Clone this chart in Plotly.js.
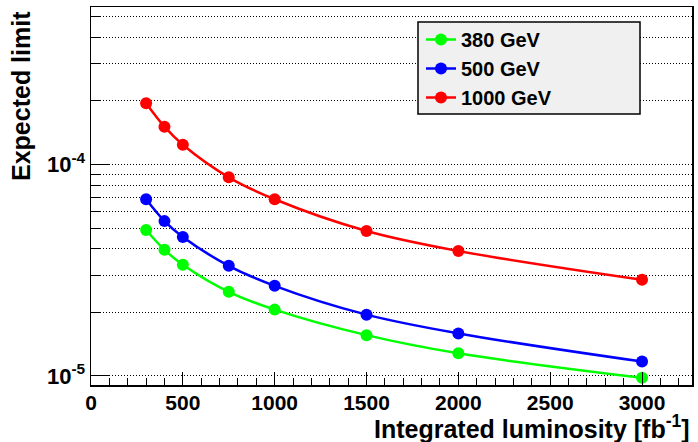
<!DOCTYPE html>
<html>
<head>
<meta charset="utf-8">
<script src="https://cdn.plot.ly/plotly-3.0.1.min.js"></script>
<style>html,body{margin:0;padding:0;background:#fff;}#chart{width:698px;height:442px;}</style>
</head>
<body>
<div id="chart"></div>
<script>
// Data
const luminosity = [300, 400, 500, 750, 1000, 1500, 2000, 3000];
const limit380 = [4.9e-5, 3.95e-5, 3.36e-5, 2.5e-5, 2.06e-5, 1.56e-5, 1.28e-5, 9.8e-6];
const limit500 = [6.85e-5, 5.4e-5, 4.54e-5, 3.32e-5, 2.67e-5, 1.95e-5, 1.59e-5, 1.17e-5];
const limit1000 = [1.95e-4, 1.51e-4, 1.24e-4, 8.7e-5, 6.85e-5, 4.85e-5, 3.9e-5, 2.85e-5];
const seriesNames = ['380 GeV', '500 GeV', '1000 GeV'];
const seriesColors = ['#00ff00', '#0000ff', '#ff0000'];
const xTickVals = [0, 500, 1000, 1500, 2000, 2500, 3000];
const xMinorVals = [100,200,300,400,600,700,800,900,1100,1200,1300,1400,1600,1700,1800,1900,2100,2200,2300,2400,2600,2700,2800,2900,3100,3200];
const yTickVals = [1e-5, 1e-4];
const yTickText = ['10<sup>-5</sup>', '10<sup>-4</sup>'];
const yMinorVals = [2e-5,3e-5,4e-5,5e-5,6e-5,7e-5,8e-5,9e-5,2e-4,3e-4,4e-4,5e-4];

const FONT = 'Liberation Sans, Arial, Helvetica, sans-serif';
const allSeries = [limit380, limit500, limit1000];
const traces = allSeries.map((ys, i) => ({
  x: luminosity, y: ys, name: seriesNames[i], legendgroup: 'g' + i,
  type: 'scatter', mode: 'lines+markers',
  line: {color: seriesColors[i], width: 2.5, shape: 'spline', smoothing: 1},
  marker: {color: seriesColors[i], size: 12, symbol: 'circle'}
}));

const plotL = 91, plotR = 692, plotT = 7, plotB = 385;
const pw = plotR - plotL, ph = plotB - plotT;
const px = x => (x - plotL) / pw;
const py = y => (plotB - y) / ph;
const dotted = '1px,2px';

const layout = {
  width: 698, height: 442,
  margin: {l: plotL, r: 698 - plotR, t: plotT, b: 442 - plotB, pad: 0},
  paper_bgcolor: '#ffffff', plot_bgcolor: '#ffffff',
  font: {family: FONT, color: '#000', size: 20, weight: 'bold'},
  showlegend: true,
  legend: {
    x: px(421), y: py(20), xanchor: 'left', yanchor: 'top',
    bgcolor: 'rgba(0,0,0,0)', borderwidth: 0,
    font: {family: FONT, size: 20, weight: 'bold', color: '#000'},
    tracegroupgap: 4, traceorder: 'normal'
  },
  xaxis: {
    range: [0, 3272], tickmode: 'array', tickvals: xTickVals,
    ticks: 'inside', ticklen: 13, tickwidth: 1, tickcolor: '#000',
    showline: true, linecolor: '#000', linewidth: 1.5, mirror: true,
    showgrid: false, zeroline: false, ticklabelstandoff: -2,
    tickfont: {family: FONT, size: 21, weight: 'bold', color: '#000'},
    minor: {tickmode: 'array', tickvals: xMinorVals, ticks: 'inside', ticklen: 7, tickwidth: 1, tickcolor: '#000', showgrid: false}
  },
  yaxis: {
    type: 'log', range: [-5.0426, -3.255], tickmode: 'array',
    tickvals: yTickVals, ticktext: yTickText,
    ticks: 'inside', ticklen: 18, tickwidth: 1, tickcolor: '#000',
    showline: true, linecolor: '#000', linewidth: 1.5, mirror: true,
    showgrid: true, gridcolor: '#000', gridwidth: 1, griddash: dotted, zeroline: false,
    tickfont: {family: FONT, size: 22, weight: 'bold', color: '#000'},
    minor: {tickmode: 'array', tickvals: yMinorVals, ticks: 'inside', ticklen: 9, tickwidth: 1, tickcolor: '#000',
            showgrid: true, gridcolor: '#000', gridwidth: 1, griddash: dotted}
  },
  shapes: [{
    type: 'rect', xref: 'paper', yref: 'paper', layer: 'above',
    x0: px(418), x1: px(640), y0: py(114), y1: py(22),
    fillcolor: '#f0f0f0', line: {color: '#000', width: 1.5}
  }],
  annotations: [
    {text: 'Expected limit', xref: 'paper', yref: 'paper', x: px(21), y: py(9),
     xanchor: 'center', yanchor: 'top', textangle: -90, showarrow: false,
     font: {family: FONT, size: 25, weight: 'bold', color: '#000'}},
    {text: 'Integrated luminosity [fb<sup>-1</sup>]', xref: 'paper', yref: 'paper', x: 1, y: py(427),
     xanchor: 'right', yanchor: 'middle', showarrow: false,
     font: {family: FONT, size: 25, weight: 'bold', color: '#000'}}
  ]
};

Plotly.newPlot('chart', traces, layout, {displayModeBar: false, staticPlot: true});
</script>
</body>
</html>
